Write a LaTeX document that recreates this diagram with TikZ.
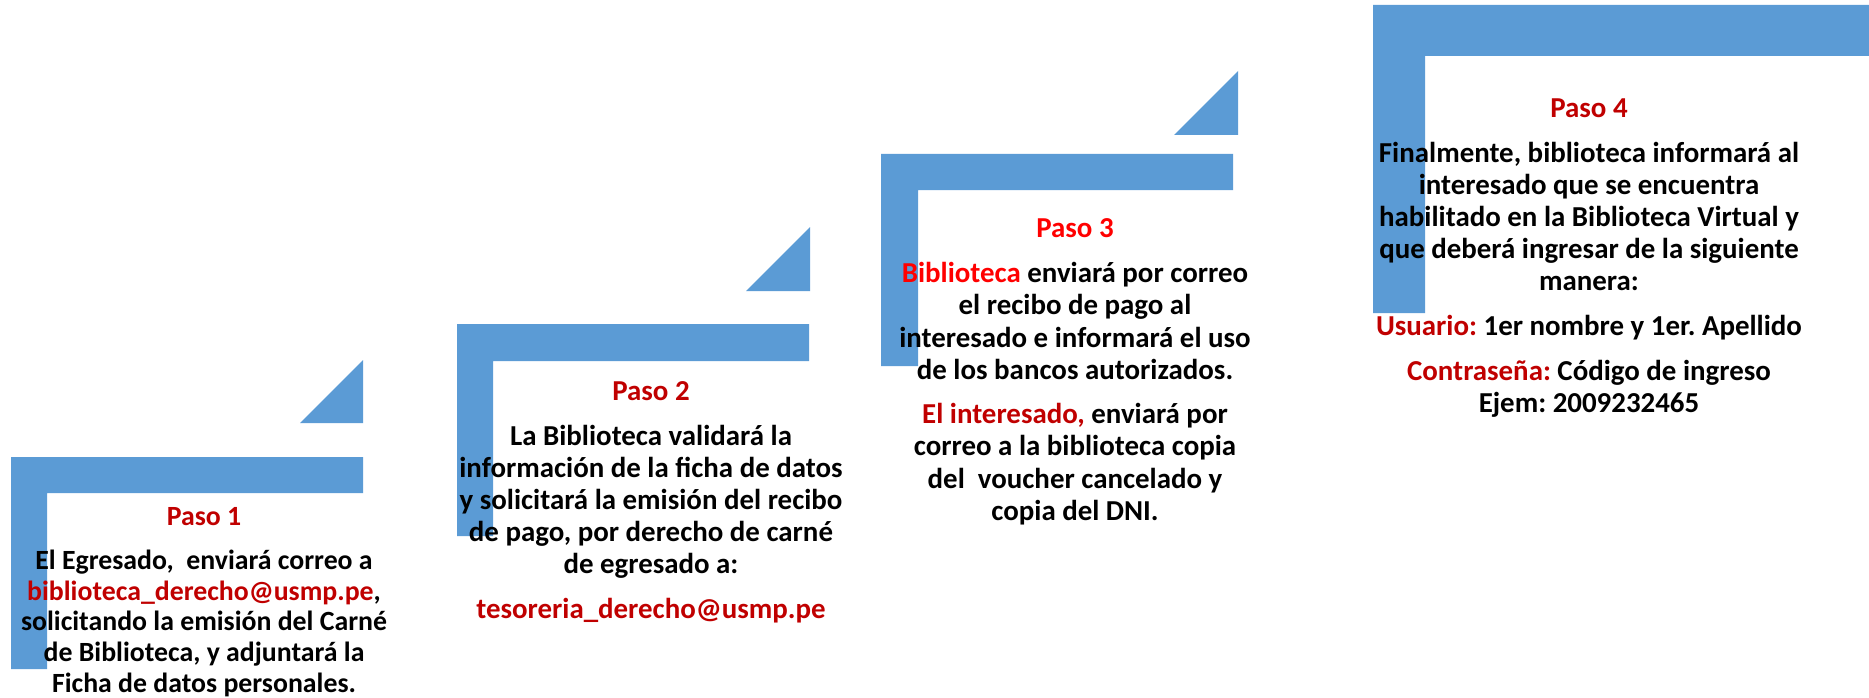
\documentclass[tikz,border=0pt]{standalone}
\usepackage{fontspec}
\setmainfont{Carlito}
\definecolor{stepblue}{HTML}{5B9BD5}
\definecolor{dred}{HTML}{C00000}
\definecolor{bred}{HTML}{FF0000}
\newcommand\tst{\rule{0pt}{23pt}}
\frenchspacing
\tikzset{
  band/.style={fill=stepblue, draw=none},
  txt/.style={anchor=north, inner sep=0pt, align=center,
    font=\fontsize{28.9}{#1}\selectfont\bfseries\frenchspacing},
  txt/.default=32,
  txtA/.style={anchor=north, inner sep=0pt, align=center,
    font=\fontsize{27.8}{30.8}\selectfont\bfseries\frenchspacing},
  ttl/.style={txt, text=dred},
}
\begin{document}
\begin{tikzpicture}[x=1pt,y=-1pt]
\useasboundingbox (0,0) rectangle (1869,698);
% Step 1 shapes
\path[band] (11,457) -- (363,457) -- (363,493) -- (47,493) -- (47,669) -- (11,669) -- cycle;
\path[band] (300,423) -- (363,423) -- (363,360) -- cycle;
% Step 2 shapes
\path[band] (457,324) -- (809,324) -- (809,361) -- (493,361) -- (493,536) -- (457,536) -- cycle;
\path[band] (746,291) -- (810,291) -- (810,227) -- cycle;
% Step 3 shapes
\path[band] (881,154) -- (1233,154) -- (1233,190) -- (918,190) -- (918,366) -- (881,366) -- cycle;
\path[band] (1174,135) -- (1238,135) -- (1238,71) -- cycle;
% Step 4 shapes
\path[band] (1373,5) -- (1869,5) -- (1869,56) -- (1425,56) -- (1425,313) -- (1373,313) -- cycle;

% Step 1 text
\node[txtA, text=dred] (t1) at (204,502) {\tst Paso 1};
\node[txtA] (b1) at (204,546) {\tst El Egresado,\ \ enviará correo a\\
{\color{dred}biblioteca\_derecho@usmp.pe},\\
solicitando la emisión del Carné\\
de Biblioteca, y adjuntará la\\
Ficha de datos personales.};

% Step 2 text
\node[ttl] (t2) at (651,377) {\tst Paso 2};
\node[txt] (b2) at (651,422) {\tst La Biblioteca validará la\\
información de la ficha de datos\\
y solicitará la emisión del recibo\\
de pago, por derecho de carné\\
de egresado a:};
\node[ttl] (e2) at (651,595) {\tst tesoreria\_derecho@usmp.pe};

% Step 3 text
\node[txt, text=bred] (t3) at (1075,214) {\tst Paso 3};
\node[txt=32.5] (b3) at (1075,259) {\tst {\color{bred}Biblioteca} enviará por correo\\
el recibo de pago al\\
interesado e informará el uso\\
de los bancos autorizados.};
\node[txt=32.5] (c3) at (1075,400) {\tst {\color{dred}El interesado,} enviará por\\
correo a la biblioteca copia\\
del\ \ voucher cancelado y\\
copia del DNI.};

% Step 4 text
\node[ttl] (t4) at (1589,94) {\tst Paso 4};
\node[txt] (b4) at (1589,139) {\tst Finalmente, biblioteca informará al\\
interesado que se encuentra\\
habilitado en la Biblioteca Virtual y\\
que deberá ingresar de la siguiente\\
manera:};
\node[txt] (u4) at (1589,312) {\tst {\color{dred}Usuario:} 1er nombre y 1er. Apellido};
\node[txt] (c4) at (1589,357) {\tst {\color{dred}Contraseña:} Código de ingreso\\
Ejem: 2009232465};
\end{tikzpicture}
\end{document}
